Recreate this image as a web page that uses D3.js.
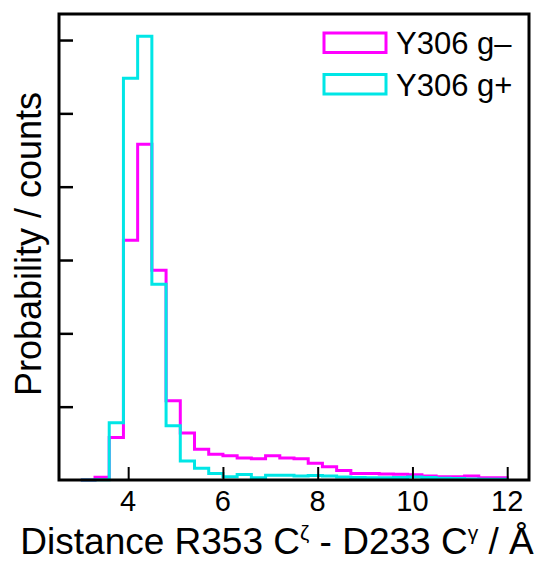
<!DOCTYPE html>
<html>
<head>
<meta charset="utf-8">
<script src="https://cdn.jsdelivr.net/npm/d3@7"></script>
<style>
  html, body { margin: 0; padding: 0; background: #fff; }
  svg { display: block; }
  text { font-family: "Liberation Sans", Arial, Helvetica, sans-serif; fill: #000; }
</style>
</head>
<body>
<svg id="chart" width="544" height="567"></svg>
<script>
// Histogram bins: left edges start at 3.0 Å, width 0.3 Å
const binStart = 3.0;
const binWidth = 0.3;

// Y306 g− (magenta)
const gMinus = [0, 0.036, 0.58, 3.27, 4.58, 2.86, 1.08, 0.64, 0.42, 0.35,
                0.33, 0.30, 0.29, 0.33, 0.30, 0.29, 0.23, 0.18, 0.13, 0.09,
                0.09, 0.082, 0.078, 0.072, 0.055, 0.045, 0.045, 0.055, 0.03, 0.03];

// Y306 g+ (cyan)
const gPlus = [0, 0.005, 0.78, 5.48, 6.05, 2.67, 0.74, 0.26, 0.16, 0.09,
               0.045, 0.075, 0.03, 0.065, 0.065, 0.055, 0.06, 0.055, 0.04, 0.035,
               0.03, 0.03, 0.035, 0.04, 0.035, 0.025, 0.02, 0.015, 0.01, 0.01];

const xTicks = [4, 6, 8, 10, 12];
const yTicks = [1, 2, 3, 4, 5, 6];
const seriesNames = ["Y306 g\u2013", "Y306 g+"];
const seriesColors = ["#ff00ff", "#00e6e6"];

const svg = d3.select("#chart");
const plot = { left: 59, top: 14, right: 529, bottom: 480 };

const x = d3.scaleLinear().domain([2.54, 12.46]).range([plot.left, plot.right]);
const y = d3.scaleLinear().domain([0, 6.355]).range([plot.bottom, plot.top]);

// Step outline of a histogram, closed down to the baseline at both ends
function stepPath(values) {
  const p = d3.path();
  p.moveTo(x(binStart), y(0));
  values.forEach((v, i) => {
    const x0 = binStart + i * binWidth;
    const x1 = x0 + binWidth;
    p.lineTo(x(x0), y(v));
    p.lineTo(x(x1), y(v));
  });
  p.lineTo(x(binStart + values.length * binWidth), y(0));
  return p.toString();
}

[gMinus, gPlus].forEach((vals, i) => {
  svg.append("path")
    .attr("d", stepPath(vals))
    .attr("fill", "none")
    .attr("stroke", seriesColors[i])
    .attr("stroke-width", 3)
    .attr("stroke-linejoin", "miter");
});

// Inward ticks
const xAxis = d3.axisBottom(x).tickValues(xTicks).tickSizeInner(-13).tickSizeOuter(0).tickFormat("");
const gx = svg.append("g").attr("transform", `translate(0,${plot.bottom})`).call(xAxis);
gx.select(".domain").remove();
gx.selectAll(".tick line").attr("stroke", "#000").attr("stroke-width", 2);

const yAxis = d3.axisLeft(y).tickValues(yTicks).tickSizeInner(-14).tickSizeOuter(0).tickFormat("");
const gy = svg.append("g").attr("transform", `translate(${plot.left},0)`).call(yAxis);
gy.select(".domain").remove();
gy.selectAll(".tick line").attr("stroke", "#000").attr("stroke-width", 2.5);

// Tick labels
svg.append("g").selectAll("text")
  .data(xTicks)
  .join("text")
  .attr("x", d => x(d))
  .attr("y", 511)
  .attr("text-anchor", "middle")
  .attr("font-size", 29)
  .text(d => d);

// Frame
svg.append("rect")
  .attr("x", plot.left).attr("y", plot.top)
  .attr("width", plot.right - plot.left)
  .attr("height", plot.bottom - plot.top)
  .attr("fill", "none")
  .attr("stroke", "#000")
  .attr("stroke-width", 3);

// Legend
const legend = svg.append("g");
seriesNames.forEach((name, i) => {
  const yy = 33 + i * 41.5;
  legend.append("rect")
    .attr("x", 324).attr("y", yy)
    .attr("width", 62).attr("height", 19.5)
    .attr("fill", "none")
    .attr("stroke", seriesColors[i])
    .attr("stroke-width", 3);
  legend.append("text")
    .attr("x", 396).attr("y", yy + 21)
    .attr("font-size", 31)
    .text(name);
});

// Axis titles
const xt = svg.append("text")
  .attr("x", 277).attr("y", 554)
  .attr("text-anchor", "middle")
  .attr("font-size", 37);
xt.append("tspan").text("Distance R353 C");
xt.append("tspan").attr("font-size", 21).attr("dy", -14).text("\u03B6");
xt.append("tspan").attr("dy", 14).text(" - D233 C");
xt.append("tspan").attr("font-size", 21).attr("dy", -14).text("\u03B3");
xt.append("tspan").attr("dy", 14).text(" / \u00C5");

svg.append("text")
  .attr("transform", "translate(41,244) rotate(-90)")
  .attr("text-anchor", "middle")
  .attr("font-size", 36)
  .text("Probability / counts");
</script>
</body>
</html>
